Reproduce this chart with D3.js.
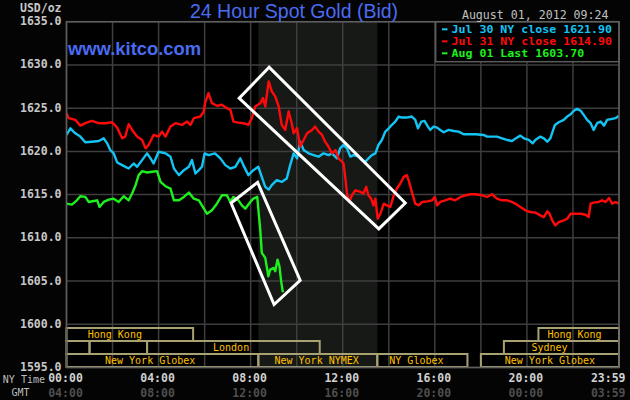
<!DOCTYPE html>
<html><head><meta charset="utf-8">
<script src="https://cdn.jsdelivr.net/npm/d3@7"></script>
<style>html,body{margin:0;padding:0;background:#000;} svg{display:block}</style>
</head><body>
<svg id="c" width="630" height="400"></svg>
<script>
// ---------- DATA (minutes after 00:00 NY time, USD/oz) ----------
const jul30Times = [0,10,23,36,49,66,84,97,106,114,123,132,145,162,175,184,197,210,219,227,240,258,271,280,293,306,319,327,336,345,353,360,370,387,401,414,427,440,453,461,474,487,500,509,518,527,535,548,561,574,583,592,601,609,618,631,644,657,670,683,692,705,713,722,731,740,748,761,770,779,787,796,805,813,822,831,840,848,857,866,874,887,900,909,916,925,933,942,948,957,966,974,983,996,1009,1022,1035,1048,1066,1087,1096,1109,1122,1135,1148,1161,1174,1183,1192,1205,1215,1222,1235,1244,1253,1261,1267,1273,1283,1296,1305,1314,1322,1331,1340,1348,1357,1366,1374,1383,1392,1401,1409,1422,1431,1440];
const jul30Values = [1621.90,1622.67,1622.09,1621.71,1621.05,1621.12,1621.20,1621.51,1620.93,1620.16,1619.77,1618.72,1618.41,1618.02,1618.60,1618.22,1618.99,1619.77,1619.19,1618.60,1619.96,1619.77,1619.38,1618.02,1617.25,1617.83,1618.22,1618.99,1617.44,1617.83,1618.22,1619.77,1619.57,1619.77,1619.19,1618.41,1618.02,1618.22,1619.19,1618.41,1617.25,1617.83,1618.22,1617.05,1615.89,1615.58,1616.09,1616.67,1616.47,1616.86,1618.41,1619.77,1619.19,1621.12,1620.16,1619.77,1619.57,1619.38,1619.77,1619.57,1619.77,1619.19,1620.35,1620.74,1620.35,1619.38,1619.57,1619.38,1618.99,1618.80,1619.19,1619.57,1619.77,1620.74,1621.32,1622.29,1622.67,1623.06,1623.45,1624.03,1623.91,1623.91,1624.03,1623.64,1622.67,1623.45,1623.53,1622.87,1622.48,1622.87,1622.75,1622.48,1622.21,1622.48,1622.36,1622.29,1621.98,1621.98,1621.98,1621.90,1621.71,1621.71,1621.71,1621.51,1621.32,1621.20,1621.59,1621.82,1621.51,1621.32,1620.93,1621.32,1621.71,1621.51,1621.12,1621.51,1622.29,1623.06,1623.37,1623.64,1624.03,1624.30,1624.69,1624.92,1624.69,1624.22,1623.64,1623.26,1622.48,1623.26,1623.45,1622.98,1623.64,1623.76,1623.84,1624.14];

const jul31Times = [0,6,23,36,49,66,84,101,119,132,145,153,162,171,184,197,206,214,227,240,249,258,271,284,301,314,323,332,349,358,361,370,379,392,405,418,427,435,448,461,474,483,492,505,512,518,527,535,544,553,561,570,579,587,592,601,609,618,627,640,648,657,666,674,683,692,701,709,718,722,727,731,737,744,753,766,774,781,787,794,800,805,811,818,827,835,844,853,861,870,879,887,893,900,909,918,927,940,953,960,966,974,987,1000,1013,1027,1040,1053,1066,1083,1096,1109,1122,1135,1148,1157,1170,1183,1196,1209,1222,1235,1244,1253,1259,1266,1274,1283,1296,1305,1314,1327,1340,1353,1361,1366,1374,1387,1396,1405,1414,1422,1431,1440];
const jul31Values = [1624.42,1623.84,1623.64,1622.98,1623.26,1623.53,1623.26,1623.26,1623.37,1622.75,1621.51,1621.71,1623.14,1622.48,1621.71,1621.32,1620.35,1620.74,1621.90,1621.71,1622.29,1621.71,1622.87,1623.26,1623.06,1623.45,1623.06,1623.84,1624.03,1624.61,1625.58,1626.74,1625.58,1625.27,1625.39,1625.00,1624.81,1623.45,1623.33,1623.26,1623.06,1623.84,1625.19,1625.58,1626.16,1625.19,1628.10,1626.94,1626.36,1625.19,1623.06,1622.48,1624.61,1623.26,1622.09,1622.67,1620.54,1621.32,1622.09,1622.48,1622.87,1622.29,1621.90,1621.12,1620.54,1619.77,1620.16,1619.19,1618.80,1618.60,1616.86,1615.12,1614.15,1614.92,1615.50,1615.31,1615.12,1615.89,1614.92,1614.53,1613.76,1614.53,1612.21,1612.79,1613.95,1613.76,1613.57,1614.92,1615.70,1616.28,1617.05,1617.25,1616.47,1615.31,1613.95,1613.76,1614.15,1614.22,1614.34,1614.73,1613.76,1614.15,1614.34,1614.53,1614.34,1614.73,1614.92,1615.04,1615.04,1614.92,1614.73,1615.04,1614.53,1614.34,1614.34,1614.22,1613.95,1613.57,1613.18,1612.98,1612.91,1612.60,1612.40,1613.06,1612.79,1612.02,1611.43,1611.82,1612.02,1612.21,1612.79,1612.79,1612.79,1612.67,1612.40,1613.95,1614.07,1614.15,1614.34,1614.15,1614.61,1613.95,1614.15,1613.95];

const aug01Times = [0,14,27,36,49,58,71,80,86,97,110,123,136,149,162,171,180,188,197,210,223,236,245,258,271,280,293,306,319,332,345,353,366,379,392,405,418,427,435,448,457,466,479,487,497,505,509,518,526,531,540,544,550,555,560,564];
const aug01Values = [1613.95,1613.84,1614.34,1614.81,1614.73,1614.15,1614.26,1614.34,1613.57,1614.15,1614.42,1614.53,1614.15,1614.81,1614.34,1615.12,1616.09,1617.25,1617.71,1617.56,1617.64,1617.71,1616.47,1615.97,1615.70,1614.34,1614.34,1614.73,1615.23,1614.53,1614.34,1613.76,1612.79,1613.18,1613.95,1614.92,1614.92,1614.15,1614.73,1614.34,1613.76,1613.37,1614.15,1614.53,1614.75,1610.95,1608.26,1607.68,1605.55,1606.33,1606.52,1606.13,1607.48,1606.71,1604.79,1603.70];

const seriesNames  = ["Jul 30 NY close 1621.90", "Jul 31 NY close 1614.90", "Aug 01 Last 1603.70"];
const seriesColors = ["#14c4f4", "#ff0a0a", "#1ef01e"];

const yTicks = [1595,1600,1605,1610,1615,1620,1625,1630,1635];
const xTicks = [0,240,480,720,960,1200,1439];
const nyLabels  = ["00:00","04:00","08:00","12:00","16:00","20:00","23:59"];
const gmtLabels = ["04:00","08:00","12:00","16:00","20:00","00:00","03:59"];
const gridXTicks = [0,120,240,360,480,600,720,840,960,1080,1200,1320,1440];

const shadeStart = 500, shadeEnd = 810;   // NYMEX floor hours

const sessionLabels  = ["Hong Kong","","","London","New York Globex","New York NYMEX","NY Globex","New York Globex","Sydney","Hong Kong"];
const sessionStarts  = [0,0,60,210,0,500,810,1080,1140,1230];
const sessionEnds    = [330,60,210,660,500,810,1045,1440,1440,1440];
const sessionRows    = [0,1,1,1,2,2,2,2,1,0];
const sessionLabelAt = [126,null,null,429,218,652,912,1260,1259,1324];

// annotation boxes (corner points, minute / price)
const box1Times = [528,450,814,883], box1Values = [1629.73,1626.15,1611.03,1614.03];
const box2Times = [498,429,541,609], box2Values = [1616.41,1614.03,1602.29,1605.09];

// ---------- DRAW ----------
const svg = d3.select("#c");
const L = 66.5, R = 619, T = 21.7, B = 367.5;
const x = d3.scaleLinear().domain([0,1440]).range([L,R]);
const y = d3.scaleLinear().domain([1595,1635]).range([B,T]);
const mono = "'DejaVu Sans Mono', monospace";

svg.append("rect").attr("width",630).attr("height",400).attr("fill","#040404");
svg.append("rect").attr("x",L).attr("y",T).attr("width",R-L).attr("height",B-T).attr("fill","#000");
svg.append("rect").attr("x",x(shadeStart)).attr("y",T).attr("width",x(shadeEnd)-x(shadeStart)).attr("height",B-T).attr("fill","#161916");

svg.append("defs").append("clipPath").attr("id","clip").append("rect")
  .attr("x",L).attr("y",T).attr("width",R-L).attr("height",B-T);

const grid = svg.append("g");
grid.selectAll(".gy").data(yTicks).join("line")
  .attr("x1",L).attr("x2",R).attr("y1",d=>y(d)).attr("y2",d=>y(d))
  .attr("stroke","#3e3e3e").attr("stroke-width",1.5);
grid.selectAll(".gx").data(gridXTicks).join("line")
  .attr("x1",d=>x(d)).attr("x2",d=>x(d)).attr("y1",T).attr("y2",B)
  .attr("stroke","#3e3e3e").attr("stroke-width",1.5);

// session boxes
const rowH = 13, rowTop = B - 3*rowH - 0.5;
const sess = svg.append("g");
sessionLabels.forEach((lab,i)=>{
  const y0 = rowTop + sessionRows[i]*rowH;
  sess.append("rect").attr("x",x(sessionStarts[i])).attr("y",y0)
    .attr("width",x(sessionEnds[i])-x(sessionStarts[i])).attr("height",rowH)
    .attr("fill","none").attr("stroke","#a8a272").attr("stroke-width",2);
  if (lab) sess.append("text").attr("x",x(sessionLabelAt[i])).attr("y",y0+rowH/2+0.5)
    .attr("text-anchor","middle").attr("dominant-baseline","middle")
    .attr("font-family",mono).attr("font-size",10).attr("fill","#ffc000").text(lab);
});

// lines
const lineGen = d3.line().x(d=>x(d[0])).y(d=>y(d[1]));
const allSeries = [
  d3.zip(jul30Times, jul30Values),
  d3.zip(jul31Times, jul31Values),
  d3.zip(aug01Times, aug01Values)
];
const lines = svg.append("g").attr("clip-path","url(#clip)");
allSeries.forEach((s,i)=>{
  lines.append("path").attr("d",lineGen(s)).attr("fill","none")
    .attr("stroke",seriesColors[i]).attr("stroke-width",2.4).attr("stroke-linejoin","round");
});

// annotation boxes
[[box1Times,box1Values],[box2Times,box2Values]].forEach(([ts,vs])=>{
  svg.append("path").attr("d", d3.line().x(d=>x(d[0])).y(d=>y(d[1]))(d3.zip(ts,vs)) + "Z")
    .attr("fill","none").attr("stroke","#fff").attr("stroke-width",3).attr("stroke-linejoin","miter");
});

// legend
const lgX = 435.7, lgY = T, lgH = 40;
svg.append("rect").attr("x",lgX).attr("y",lgY).attr("width",R-lgX).attr("height",lgH)
  .attr("fill","#000").attr("stroke","#5a5a5a").attr("stroke-width",1.5);
const charW = 6.98;
seriesNames.forEach((n,i)=>{
  const cy = 29.3 + i*12;
  svg.append("line").attr("x1",442).attr("x2",447.5).attr("y1",cy).attr("y2",cy)
    .attr("stroke",seriesColors[i]).attr("stroke-width",2);
  svg.append("text").attr("x",451.5).attr("y",cy+3.8)
    .attr("font-family",mono).attr("font-weight","bold").attr("font-size",10.3)
    .attr("textLength", n.length*charW).attr("lengthAdjust","spacingAndGlyphs")
    .attr("fill",seriesColors[i]).text(n);
});

// border
svg.append("rect").attr("x",L).attr("y",T).attr("width",R-L).attr("height",B-T)
  .attr("fill","none").attr("stroke","#5e5e5e").attr("stroke-width",1.5);

// y labels
svg.selectAll(".yl").data(yTicks).join("text")
  .attr("x",61.5).attr("y",d=>y(d)).attr("text-anchor","end").attr("dominant-baseline","middle")
  .attr("font-family",mono).attr("font-weight","bold").attr("font-size",11.5).attr("fill","#c8c8c8")
  .text(d=>d.toFixed(1));
svg.append("text").attr("x",61.5).attr("y",8.5).attr("text-anchor","end").attr("dominant-baseline","middle")
  .attr("font-family",mono).attr("font-weight","bold").attr("font-size",11.5).attr("fill","#c8c8c8").text("USD/oz");

// x labels
xTicks.forEach((t,i)=>{
  const last = i === xTicks.length-1;
  const xx = last ? 625.5 : x(t)-1;
  const anchor = last ? "end" : "middle";
  svg.append("text").attr("x",xx).attr("y",378.5).attr("text-anchor",anchor).attr("dominant-baseline","middle")
    .attr("font-family",mono).attr("font-weight","bold").attr("font-size",11.5).attr("fill","#d0d0d0").text(nyLabels[i]);
  svg.append("text").attr("x",xx).attr("y",393.5).attr("text-anchor",anchor).attr("dominant-baseline","middle")
    .attr("font-family",mono).attr("font-weight","bold").attr("font-size",11.5).attr("fill","#4e4e4e").text(gmtLabels[i]);
});
svg.append("text").attr("x",45).attr("y",380).attr("text-anchor","end").attr("dominant-baseline","middle")
  .attr("font-family",mono).attr("font-size",10).attr("fill","#bcbcbc").text("NY Time");
svg.append("text").attr("x",20.5).attr("y",392.5).attr("text-anchor","middle").attr("dominant-baseline","middle")
  .attr("font-family",mono).attr("font-size",10).attr("fill","#bcbcbc").text("GMT");

// title & texts
svg.append("text").attr("x",190).attr("y",18).attr("font-family","'Liberation Sans', Arial, sans-serif")
  .attr("font-size",19.5).attr("fill","#4a6cf2").text("24 Hour Spot Gold (Bid)");
svg.append("text").attr("x",68).attr("y",55).attr("font-family","'Liberation Sans', Arial, sans-serif")
  .attr("font-weight","bold").attr("font-size",18.4).attr("fill","#4a6cf2").text("www.kitco.com");
svg.append("text").attr("x",608.5).attr("y",15).attr("text-anchor","end").attr("dominant-baseline","middle")
  .attr("font-family",mono).attr("font-size",11.6).attr("fill","#c0c0c0").text("August 01, 2012 09:24");
</script>
</body></html>
